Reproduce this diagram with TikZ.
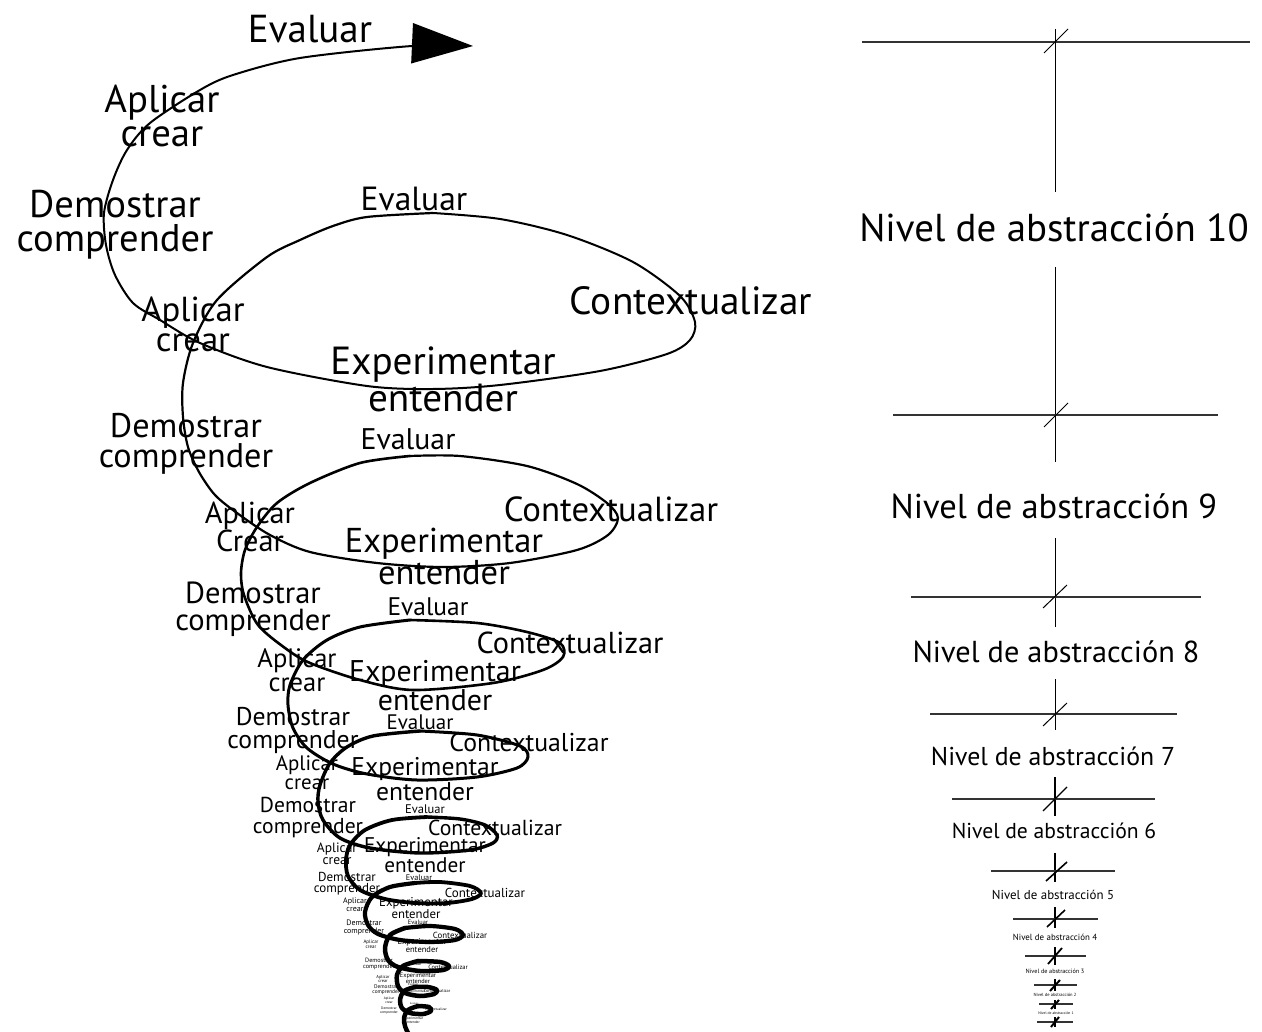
\documentclass[tikz,border=0pt]{standalone}
\usepackage{fontspec}
\setmainfont{PT Sans}
\usetikzlibrary{arrows.meta}
\newcommand{\fz}[2]{\fontsize{#1}{#2}\selectfont}
\tikzset{
    lbl/.style={anchor=north, inner sep=0pt, align=center},
    spir/.style={draw, line width=#1, line cap=round, line join=round},
    hline/.style={draw, black!80, line width=#1},
    vline/.style={draw, line width=#1}
}
\begin{document}
\begin{tikzpicture}[x=1pt, y=-1pt]
    \useasboundingbox[fill=white] (0,0) rectangle (1262,1032);
    \draw[spir=2pt, {Triangle[length=61pt,width=40pt]}-] plot[smooth] coordinates {(473,46) (412,46) (300,58) (233,75) (200,90) (150,123) (127,150) (113,180) (104,213) (106,245) (115,275) (133,303) (160,320) (200,343) (267,367) (367,386) (433,389) (500,385) (600,371) (667,354) (690,340) (695,322) (680,296) (633,262) (567,235) (500,219) (433,213)};
    \draw[spir=2.2pt] plot[smooth] coordinates {(433,213) (367,217) (333,226) (300,240) (267,257) (217,300) (193,343) (183,383) (183,417) (188,447) (199,472) (215,495) (237,513) (270,535) (310,552) (377,563) (443,567) (510,563) (577,550) (608,535) (618,518) (607,503) (577,484) (527,466) (460,456) (410,456)};
    \draw[spir=2.6pt] plot[smooth] coordinates {(410,456) (360,463) (310,483) (277,503) (257,527) (245,550) (241,573) (244,595) (258,625) (285,648) (310,663) (360,680) (413,690) (493,683) (543,670) (563,657) (560,643) (527,632) (477,623) (410,620)};
    \draw[spir=3pt] plot[smooth] coordinates {(410,620) (360,627) (327,640) (303,660) (290,685) (288,705) (293,728) (307,748) (333,764) (367,774) (417,780) (477,777) (517,768) (528,757) (520,746) (477,735) (420,731)};
    \draw[spir=3.4pt] plot[smooth] coordinates {(420,731) (373,736) (347,747) (330,763) (320,785) (318,802) (323,820) (340,838) (370,848) (420,853) (470,850) (493,843) (497,835) (485,825) (460,819) (427,817)};
    \draw[spir=3.8pt] plot[smooth] coordinates {(427,817) (392,820) (365,830) (350,845) (346,860) (348,876) (360,890) (385,899) (415,903) (447,903) (472,899) (481,893) (470,886) (440,882) (415,883)};
    \draw[spir=4.2pt] plot[smooth] coordinates {(415,883) (390,887) (372,897) (365,912) (368,925) (378,934) (400,940) (430,942) (455,940) (463,935) (455,929) (430,926) (405,928)};
    \draw[spir=4.5pt] plot[smooth] coordinates {(405,928) (390,935) (385,948) (388,960) (398,967) (420,971) (443,970) (449,966) (440,962) (418,961)};
    \draw[spir=4.5pt] plot[smooth] coordinates {(418,961) (403,966) (397,975) (398,986) (405,993) (420,996) (434,994) (437,990) (428,987) (415,987)};
    \draw[spir=4.5pt] plot[smooth] coordinates {(415,987) (404,991) (400,1000) (402,1008) (410,1013) (423,1014) (431,1011) (429,1007) (418,1006)};
    \draw[spir=4.5pt] plot[smooth] coordinates {(418,1006) (408,1010) (404,1018) (405,1026) (408,1033)};

    \node (eval0) [lbl, font=\fz{39}{35}] at (310,15) {Evaluar};
    \node (apl0) [lbl, font=\fz{38.7}{34}] at (162,85) {Aplicar\\crear};
    \node (dem0) [lbl, font=\fz{38.6}{34}] at (115,190) {Demostrar\\comprender};
    \node (eval1) [lbl, font=\fz{33.5}{33}] at (414,187) {Evaluar};
    \node (ctx1) [lbl, font=\fz{39.3}{39}] at (691,286) {Contextualizar};
    \node (exp1) [lbl, font=\fz{39.2}{33}] at (443,347) {Experimentar\\entender};
    \node (apl1) [lbl, font=\fz{34.7}{30}] at (193,297) {Aplicar\\crear};
    \node (dem1) [lbl, font=\fz{34.2}{30}] at (186,413) {Demostrar\\comprender};
    \node (eval2) [lbl, font=\fz{29.8}{30}] at (408,428) {Evaluar};
    \node (ctx2) [lbl, font=\fz{34.8}{35}] at (611,497) {Contextualizar};
    \node (apl2) [lbl, font=\fz{30.3}{28}] at (250,502) {Aplicar\\Crear};
    \node (exp2) [lbl, font=\fz{34.5}{30}] at (444,528) {Experimentar\\entender};
    \node (dem2) [lbl, font=\fz{30.5}{27}] at (253,582) {Demostrar\\comprender};
    \node (eval3) [lbl, font=\fz{25.4}{25}] at (428,598) {Evaluar};
    \node (ctx3) [lbl, font=\fz{30.3}{30}] at (570,632) {Contextualizar};
    \node (apl3) [lbl, font=\fz{26.6}{24}] at (297,648) {Aplicar\\crear};
    \node (exp3) [lbl, font=\fz{29.9}{29}] at (435,660) {Experimentar\\entender};
    \node (dem3) [lbl, font=\fz{25.7}{23}] at (293,707) {Demostrar\\comprender};
    \node (eval4) [lbl, font=\fz{21}{21}] at (420,715) {Evaluar};
    \node (ctx4) [lbl, font=\fz{25.8}{26}] at (529,733) {Contextualizar};
    \node (apl4) [lbl, font=\fz{20.9}{19}] at (307,755) {Aplicar\\crear};
    \node (exp4) [lbl, font=\fz{25.6}{25}] at (425,757) {Experimentar\\entender};
    \node (dem4) [lbl, font=\fz{21.6}{21}] at (308,797) {Demostrar\\comprender};
    \node (eval5) [lbl, font=\fz{12.5}{12}] at (425,805) {Evaluar};
    \node (ctx5) [lbl, font=\fz{21.7}{22}] at (495,820) {Contextualizar};
    \node (exp5) [lbl, font=\fz{21.2}{18}] at (425,837) {Experimentar\\entender};
    \node (apl5) [lbl, font=\fz{13.5}{12}] at (337,843) {Aplicar\\crear};
    \node (dem5) [lbl, font=\fz{13}{11.5}] at (347,872) {Demostrar\\comprender};
    \node (eval6) [lbl, font=\fz{8.2}{8}] at (419,875) {Evaluar};
    \node (ctx6) [lbl, font=\fz{13}{13}] at (485,888) {Contextualizar};
    \node (apl6) [lbl, font=\fz{8}{7.5}] at (355,898) {Aplicar\\crear};
    \node (exp6) [lbl, font=\fz{12.8}{10.5}] at (416,897) {Experimentar\\entender};
    \node (dem6) [lbl, font=\fz{7.9}{7.5}] at (364,920) {Demostrar\\comprender};
    \node (eval7) [lbl, font=\fz{6.3}{6}] at (418,920) {Evaluar};
    \node (ctx7) [lbl, font=\fz{8.8}{9}] at (460,932) {Contextualizar};
    \node (apl7) [lbl, font=\fz{5}{5}] at (371,940) {Aplicar\\crear};
    \node (exp7) [lbl, font=\fz{8.5}{8}] at (422,938) {Experimentar\\entender};
    \node (dem7) [lbl, font=\fz{6.2}{6}] at (379,958) {Demostrar\\comprender};
    \node (eval8) [lbl, font=\fz{4}{4}] at (415,962) {Evaluar};
    \node (ctx8) [lbl, font=\fz{6.4}{6}] at (448,965) {Contextualizar};
    \node (apl8) [lbl, font=\fz{4.4}{4}] at (383,975) {Aplicar\\crear};
    \node (exp8) [lbl, font=\fz{6.3}{6}] at (418,973) {Experimentar\\entender};
    \node (dem8) [lbl, font=\fz{5.3}{5}] at (386,985) {Demostrar\\comprender};
    \node (eval9) [lbl, font=\fz{3}{3}] at (413,983) {Evaluar};
    \node (ctx9) [lbl, font=\fz{4.3}{4}] at (437,989) {Contextualizar};
    \node (apl9) [lbl, font=\fz{3.5}{3.5}] at (389,997) {Aplicar\\crear};
    \node (exp9) [lbl, font=\fz{3.5}{3.5}] at (415,990) {Experimentar\\entender};
    \node (dem9) [lbl, font=\fz{3.5}{3.5}] at (389,1007) {Demostrar\\comprender};
    \node (eval10) [lbl, font=\fz{2.5}{2.5}] at (414,1003) {Evaluar};
    \node (ctx10) [lbl, font=\fz{3.5}{3.5}] at (436,1008) {Contextualizar};
    \node (exp10) [lbl, font=\fz{3.5}{3.5}] at (413,1017) {Experimentar\\entender};

    \draw[hline=1.4pt] (862,42) -- (1250,42);
    \draw[vline=1pt] (1055,29) -- (1055,192);
    \draw[vline=1pt] (1044,53) -- (1068,29);
    \node (niv10) [lbl, font=\fz{38.9}{39}] at (1054,213) {Nivel de abstracción 10};
    \draw[vline=1pt] (1055,267) -- (1055,462);
    \draw[hline=1.4pt] (893,415) -- (1218,415);
    \draw[vline=1pt] (1044,427) -- (1068,403);
    \node (niv9) [lbl, font=\fz{34.5}{35}] at (1054,493) {Nivel de abstracción 9};
    \draw[vline=1pt] (1055,538) -- (1055,627);
    \draw[hline=1.4pt] (911,597) -- (1201,597);
    \draw[vline=1pt] (1043,608) -- (1067,585);
    \node (niv8) [lbl, font=\fz{30.3}{30}] at (1056,640) {Nivel de abstracción 8};
    \draw[vline=1pt] (1055,679) -- (1055,730);
    \draw[hline=1.4pt] (930,714) -- (1177,714);
    \draw[vline=1pt] (1043,726) -- (1067,703);
    \node (niv7) [lbl, font=\fz{25.8}{26}] at (1053,747) {Nivel de abstracción 7};
    \draw[vline=1.2pt] (1055,777) -- (1055,816);
    \draw[hline=1.5pt] (952,799) -- (1155,799);
    \draw[vline=1.2pt] (1043,811) -- (1067,787);
    \node (niv6) [lbl, font=\fz{21.6}{22}] at (1054,823) {Nivel de abstracción 6};
    \draw[vline=1.6pt] (1055,853) -- (1055,882);
    \draw[hline=1.8pt] (991,871) -- (1115,871);
    \draw[vline=1.6pt] (1046,881) -- (1067,862);
    \node (niv5) [lbl, font=\fz{12.9}{13}] at (1053,890) {Nivel de abstracción 5};
    \draw[vline=1.6pt] (1055,907) -- (1055,928);
    \draw[hline=1.8pt] (1013,919) -- (1098,919);
    \draw[vline=1.6pt] (1047,927) -- (1065,910);
    \node (niv4) [lbl, font=\fz{8.9}{9}] at (1055,934) {Nivel de abstracción 4};
    \draw[vline=1.8pt] (1055,947) -- (1055,965);
    \draw[hline=1.8pt] (1025,956) -- (1086,956);
    \draw[vline=1.8pt] (1048,964) -- (1062,948);
    \node (niv3) [lbl, font=\fz{6.2}{6}] at (1055,969) {Nivel de abstracción 3};
    \draw[vline=1.8pt] (1055,979) -- (1055,991);
    \draw[hline=2pt] (1034,985) -- (1077,985);
    \draw[vline=2pt] (1050,991) -- (1060,980);
    \node (niv2) [lbl, font=\fz{4.5}{4.5}] at (1055,993) {Nivel de abstracción 2};
    \draw[vline=1.8pt] (1055,1000) -- (1055,1009);
    \draw[hline=2pt] (1039,1004) -- (1073,1004);
    \draw[vline=2pt] (1051,1009) -- (1059,1000);
    \node (niv1) [lbl, font=\fz{3.7}{3.7}] at (1056,1012) {Nivel de abstracción 1};
    \draw[vline=1.8pt] (1055,1017) -- (1055,1027);
    \draw[hline=2pt] (1037,1022) -- (1073,1022);
    \draw[vline=2pt] (1051,1027) -- (1059,1017);
\end{tikzpicture}
\end{document}
